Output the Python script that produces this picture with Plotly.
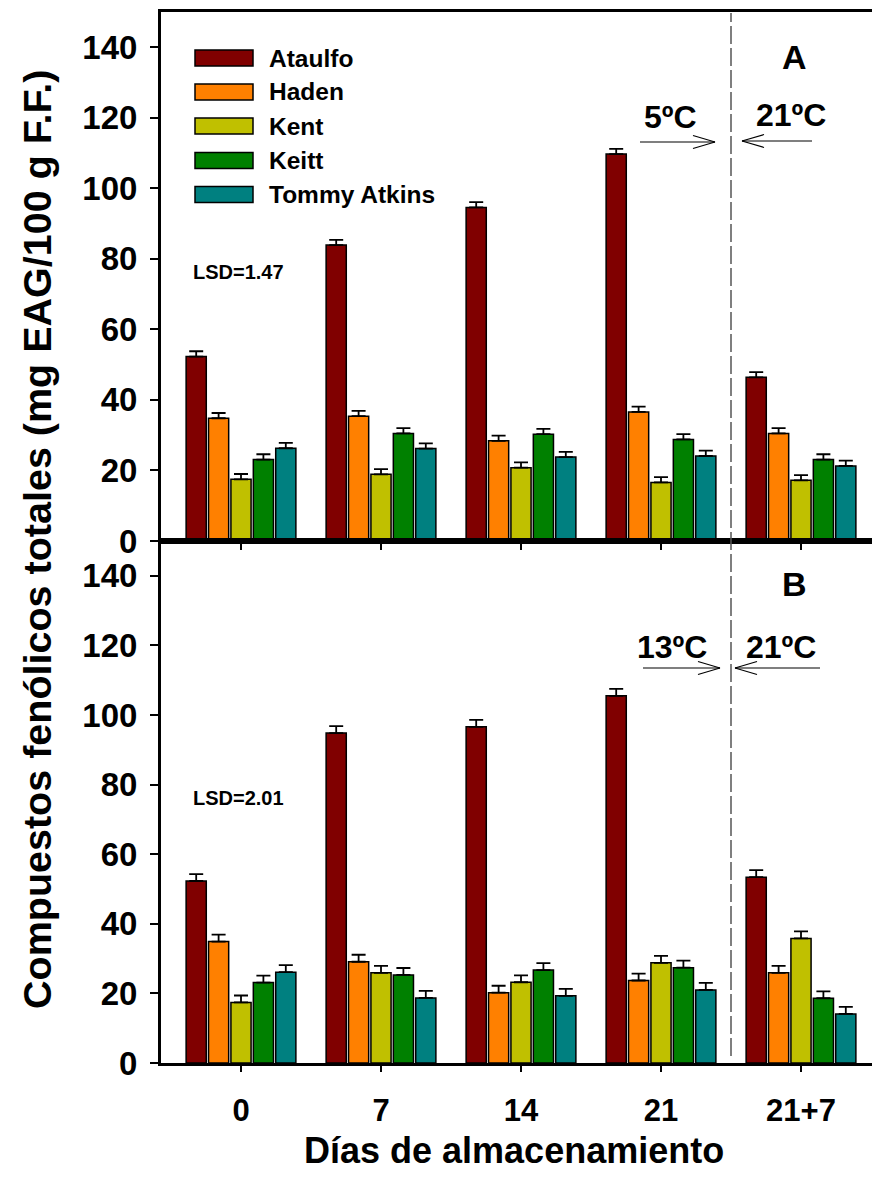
import plotly.graph_objects as go

# ---------------- data ----------------
days = ["0", "7", "14", "21", "21+7"]
cultivars = ["Ataulfo", "Haden", "Kent", "Keitt", "Tommy Atkins"]
colors = ["#800000", "#FF8000", "#C0C000", "#008000", "#008080"]

# Panel A (5 ºC then 21 ºC)
ataulfo_a = [52.3, 83.9, 94.6, 109.7, 46.4]
haden_a = [34.8, 35.4, 28.4, 36.6, 30.5]
kent_a = [17.5, 18.9, 20.8, 16.6, 17.2]
keitt_a = [23.1, 30.5, 30.3, 28.8, 23.1]
tommy_a = [26.3, 26.2, 23.8, 24.1, 21.3]
err_a = [1.5, 1.5, 1.5, 1.5, 1.5]

# Panel B (13 ºC then 21 ºC)
ataulfo_b = [52.3, 94.8, 96.6, 105.5, 53.4]
haden_b = [34.9, 29.1, 20.2, 23.7, 25.9]
kent_b = [17.4, 25.9, 23.2, 28.8, 35.8]
keitt_b = [23.1, 25.3, 26.7, 27.4, 18.6]
tommy_b = [26.1, 18.7, 19.3, 21.0, 14.1]
err_b = [2.0, 2.0, 2.0, 2.0, 2.0]

y_ticks = [0, 20, 40, 60, 80, 100, 120, 140]

series_a = [ataulfo_a, haden_a, kent_a, keitt_a, tommy_a]
series_b = [ataulfo_b, haden_b, kent_b, keitt_b, tommy_b]

# ---------------- layout geometry (pixels) ----------------
W, H = 872, 1193
L, R, T, B = 161, 0, 12, 130
PW, PH = W - L - R, H - T - B
split = (1063 - 541) / PH
FONT = "Liberation Sans, Arial, sans-serif"


def px(x):
    return (x - L) / PW


def py(y):
    return (H - B - y) / PH


fig = go.Figure()

for vals, name, col in zip(series_a, cultivars, colors):
    fig.add_trace(go.Bar(
        x=days, y=vals, name=name, xaxis="x", yaxis="y",
        marker=dict(color=col, line=dict(color="black", width=1.5)),
        error_y=dict(type="data", array=err_a, arrayminus=[0] * len(err_a),
                     symmetric=False, visible=True, color="black",
                     thickness=1.8, width=7),
        showlegend=False))

for vals, name, col in zip(series_b, cultivars, colors):
    fig.add_trace(go.Bar(
        x=days, y=vals, name=name, xaxis="x2", yaxis="y2",
        marker=dict(color=col, line=dict(color="black", width=1.5)),
        error_y=dict(type="data", array=err_b, arrayminus=[0] * len(err_b),
                     symmetric=False, visible=True, color="black",
                     thickness=1.8, width=7),
        showlegend=False))

xr = [-(241 - L) / 140, (W - 241) / 140]
common_x = dict(range=xr, showline=True, linewidth=3, linecolor="black",
                mirror=True, ticks="outside", ticklen=6, tickwidth=2,
                tickcolor="black", showgrid=False, zeroline=False)
common_y = dict(range=[0, 150], tickvals=y_ticks, showline=True, linewidth=3,
                linecolor="black", ticks="outside", ticklen=8, tickwidth=2,
                tickcolor="black", showgrid=False, zeroline=False,
                ticklabelstandoff=6,
                tickfont=dict(family=FONT, size=33, color="black", weight="bold"))

fig.update_layout(
    width=W, height=H,
    margin=dict(l=L, r=R, t=T, b=B),
    paper_bgcolor="white", plot_bgcolor="white",
    barmode="group", bargap=0.2, bargroupgap=0.1,
    xaxis=dict(domain=[0, 1], anchor="y", showticklabels=False,
               type="category", **common_x),
    xaxis2=dict(domain=[0, 1], anchor="y2", matches="x", type="category",
                ticklabelstandoff=12,
                tickfont=dict(family=FONT, size=31, color="black", weight="bold"),
                **common_x),
    yaxis=dict(domain=[split, 1], anchor="x", **common_y),
    yaxis2=dict(domain=[0, split], anchor="x2", **common_y),
)

shapes = []
annotations = []

# dashed separator between 21 and 21+7
shapes.append(dict(type="line", xref="x", yref="paper", x0=3.5, x1=3.5,
                   y0=py(1056), y1=py(13),
                   line=dict(color="#555555", width=1.5, dash="18px,4px")))


def arrow(x_tail, x_tip, y, back, half):
    d = 1 if x_tip > x_tail else -1
    shapes.append(dict(type="line", xref="paper", yref="paper",
                       x0=px(x_tail), x1=px(x_tip), y0=py(y), y1=py(y),
                       line=dict(color="black", width=1.2)))
    for s in (-1, 1):
        shapes.append(dict(type="line", xref="paper", yref="paper",
                           x0=px(x_tip), x1=px(x_tip - d * back),
                           y0=py(y), y1=py(y + s * half),
                           line=dict(color="black", width=1.2)))


arrow(640, 715, 142, 22, 6.5)
arrow(812, 742, 141, 22, 6.5)
arrow(643, 720, 668, 22, 6.5)
arrow(820, 735, 668, 22, 6.5)


def label(text, x, y, size, xanchor="center"):
    annotations.append(dict(text=text, xref="paper", yref="paper",
                            x=px(x), y=py(y), xanchor=xanchor, yanchor="middle",
                            showarrow=False,
                            font=dict(family=FONT, size=size, color="black",
                                      weight="bold")))


label("5ºC", 670, 117, 32)
label("21ºC", 791, 115, 32)
label("13ºC", 672, 647, 32)
label("21ºC", 781, 647, 32)
label("A", 794, 57, 34)
label("B", 794, 584, 34)
label("LSD=1.47", 191, 272, 20, "left")
label("LSD=2.01", 191, 798, 20, "left")

# legend (drawn manually to match the wide swatches)
rows = [58, 92, 126, 160.5, 194.5]
for name, col, yr in zip(cultivars, colors, rows):
    shapes.append(dict(type="rect", xref="paper", yref="paper",
                       x0=px(195), x1=px(253), y0=py(yr + 8), y1=py(yr - 8),
                       fillcolor=col, line=dict(color="black", width=1.5)))
    label(name, 267, yr, 24.5, "left")

# axis titles
annotations.append(dict(text="Compuestos fenólicos totales (mg EAG/100 g F.F.)",
                        xref="paper", yref="paper", x=px(37), y=py(540),
                        xanchor="center", yanchor="middle", textangle=-90,
                        showarrow=False,
                        font=dict(family=FONT, size=39.5, color="black",
                                  weight="bold")))
annotations.append(dict(text="Días de almacenamiento",
                        xref="paper", yref="paper", x=px(514), y=py(1150),
                        xanchor="center", yanchor="middle", showarrow=False,
                        font=dict(family=FONT, size=36, color="black",
                                  weight="bold")))

fig.update_layout(shapes=shapes, annotations=annotations)

fig.write_html("out.html")
